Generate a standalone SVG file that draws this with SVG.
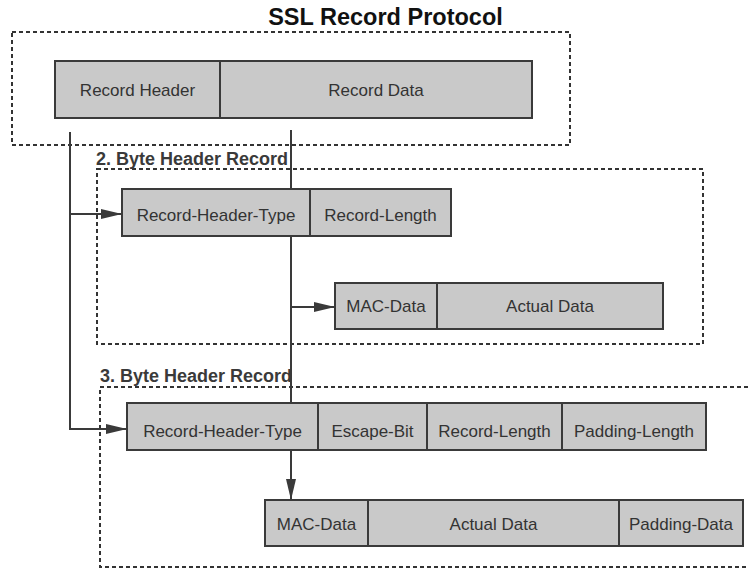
<svg xmlns="http://www.w3.org/2000/svg" width="748" height="569" viewBox="0 0 748 569">
  <style>
    .frame { fill: none; stroke: #333; stroke-width: 2; stroke-dasharray: 4 3; }
    .cell { fill: #c9c9c9; stroke: #3a3a3a; stroke-width: 2; }
    .lbl { font-family: "Liberation Sans", Arial, sans-serif; font-size: 17px; fill: #333; text-anchor: middle; }
    .sec { font-family: "Liberation Sans", Arial, sans-serif; font-size: 18px; font-weight: bold; fill: #3a3a3a; }
    .title { font-family: "Liberation Sans", Arial, sans-serif; font-size: 23.5px; font-weight: bold; fill: #111; text-anchor: middle; }
    .conn { fill: none; stroke: #3a3a3a; stroke-width: 2; }
  </style>
  <defs>
    <marker id="arrow" markerUnits="userSpaceOnUse" markerWidth="21" markerHeight="10" refX="21" refY="5" orient="auto">
      <path d="M0,0 L21,5 L0,10 z" fill="#3a3a3a"/>
    </marker>
  </defs>
  <rect width="748" height="569" fill="#ffffff"/>

  <text class="title" x="385.5" y="25">SSL Record Protocol</text>

  <g id="frames">
    <rect class="frame" x="12" y="32" width="558" height="113"/>
    <rect class="frame" x="97" y="169" width="606" height="175"/>
    <rect class="frame" x="100" y="387" width="660" height="180"/>
    <text class="sec" x="96" y="165">2. Byte Header Record</text>
    <text class="sec" x="100" y="382">3. Byte Header Record</text>
  </g>

  <g id="connectors">
    <path class="conn" d="M70,132 V429 H127" marker-end="url(#arrow)"/>
    <path class="conn" d="M70,214 H122" marker-end="url(#arrow)"/>
    <path class="conn" d="M291,130 V403"/>
    <path class="conn" d="M291,307 H335" marker-end="url(#arrow)"/>
    <path class="conn" d="M291,450 V500" marker-end="url(#arrow)"/>
  </g>

  <g id="ssl-record">
    <rect class="cell" x="55" y="61" width="165" height="57"/>
    <text class="lbl" x="137.5" y="96">Record Header</text>
    <rect class="cell" x="220" y="61" width="312" height="57"/>
    <text class="lbl" x="376" y="96">Record Data</text>
  </g>

  <g id="header2">
    <rect class="cell" x="122" y="189" width="188" height="47"/>
    <text class="lbl" x="216" y="221">Record-Header-Type</text>
    <rect class="cell" x="310" y="189" width="141" height="47"/>
    <text class="lbl" x="380.5" y="221">Record-Length</text>
  </g>

  <g id="data2">
    <rect class="cell" x="335" y="283" width="102" height="46"/>
    <text class="lbl" x="386" y="312">MAC-Data</text>
    <rect class="cell" x="437" y="283" width="226" height="46"/>
    <text class="lbl" x="550" y="312">Actual Data</text>
  </g>

  <g id="header3">
    <rect class="cell" x="127" y="403" width="191" height="47"/>
    <text class="lbl" x="222.5" y="437">Record-Header-Type</text>
    <rect class="cell" x="318" y="403" width="109" height="47"/>
    <text class="lbl" x="372.5" y="437">Escape-Bit</text>
    <rect class="cell" x="427" y="403" width="135" height="47"/>
    <text class="lbl" x="494.5" y="437">Record-Length</text>
    <rect class="cell" x="562" y="403" width="144" height="47"/>
    <text class="lbl" x="634" y="437">Padding-Length</text>
  </g>

  <g id="data3">
    <rect class="cell" x="265" y="500" width="103" height="46"/>
    <text class="lbl" x="316.5" y="530">MAC-Data</text>
    <rect class="cell" x="368" y="500" width="251" height="46"/>
    <text class="lbl" x="493.5" y="530">Actual Data</text>
    <rect class="cell" x="619" y="500" width="124" height="46"/>
    <text class="lbl" x="681" y="530">Padding-Data</text>
  </g>
</svg>
